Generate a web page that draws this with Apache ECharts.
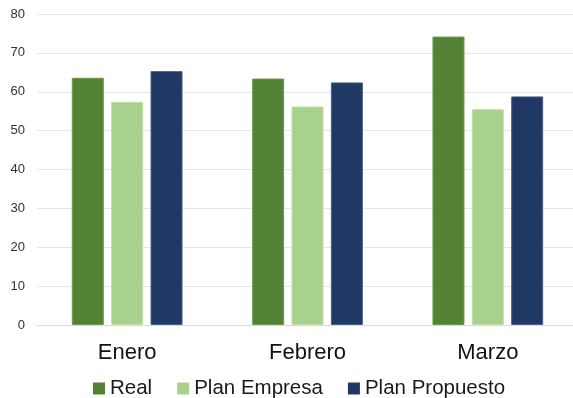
<!DOCTYPE html>
<html><head><meta charset="utf-8">
<script src="https://cdn.jsdelivr.net/npm/echarts@6/dist/echarts.min.js"></script>
<style>html,body{margin:0;padding:0;background:#fff}#c{width:573px;height:398px}</style>
</head><body><div id="c"></div>
<script>
const categories = ["Enero", "Febrero", "Marzo"];
const real = [63.6, 63.4, 74.2];
const planEmpresa = [57.4, 56.2, 55.5];
const planPropuesto = [65.3, 62.4, 58.8];
const seriesNames = ["Real", "Plan Empresa", "Plan Propuesto"];
const colors = ["#548235", "#A9D18E", "#203864"];
const borders = ["#6f9a52", "#bfe0a8", "#4a5f88"];

const chart = echarts.init(document.getElementById('c'));
const data = [real, planEmpresa, planPropuesto];
chart.setOption({
  animation: false,
  grid: {left: 37, width: 541, top: 14, bottom: 73, containLabel: false, outerBoundsMode: 'none'},
  legend: {
    top: 378, left: 93, padding: 0, itemWidth: 12, itemHeight: 12, itemGap: 25,
    icon: 'rect',
    textStyle: {fontFamily: 'Liberation Sans, Arial', fontSize: 20.5, color: '#1a1a1a'},
    data: seriesNames.map((n, i) => ({name: n, itemStyle: {borderWidth: 0, color: colors[i]}}))
  },
  xAxis: {
    type: 'category', data: categories,
    axisLine: {lineStyle: {color: '#d9d9d9', width: 1}},
    axisTick: {show: false},
    axisLabel: {fontFamily: 'Liberation Sans, Arial', fontSize: 22, color: '#111', margin: 17}
  },
  yAxis: {
    type: 'value', min: 0, max: 80, interval: 10,
    axisLine: {show: false}, axisTick: {show: false},
    splitLine: {lineStyle: {color: '#e6e6e6', width: 1}},
    axisLabel: {fontFamily: 'Liberation Sans, Arial', fontSize: 13, color: '#333', margin: 12}
  },
  series: seriesNames.map((n, i) => ({
    name: n, type: 'bar', data: data[i], barWidth: 32, barGap: '23%',
    itemStyle: {color: colors[i], borderColor: borders[i], borderWidth: 1}
  }))
});
</script></body></html>
